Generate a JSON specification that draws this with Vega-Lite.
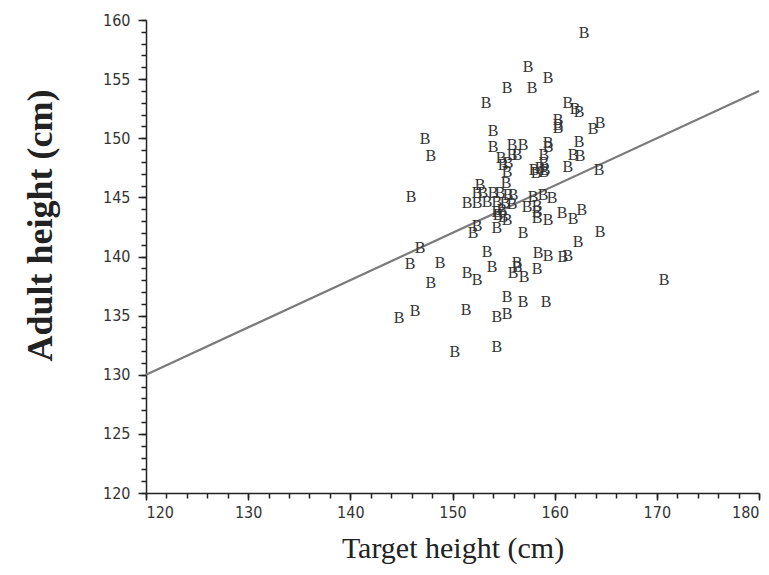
{
  "$schema": "https://vega.github.io/schema/vega-lite/v6.json",
  "width": 613,
  "height": 473,
  "autosize": {"type": "none"},
  "padding": {"left": 146, "top": 20, "right": 10, "bottom": 82},
  "background": "white",
  "config": {
    "view": {"stroke": null},
    "axis": {"grid": false, "domainColor": "#222", "tickColor": "#222", "domainWidth": 1.5, "tickWidth": 1.5, "labelFont": "Liberation Sans Narrow, DejaVu Sans Condensed, Arial Narrow, sans-serif", "labelFontSize": 16, "labelColor": "#333"}
  },
  "datasets": {
    "pts": [
      {"target": 162.87, "adult": 158.90}, {"target": 157.39, "adult": 156.03}, {"target": 159.35, "adult": 155.10},
      {"target": 155.33, "adult": 154.25}, {"target": 157.78, "adult": 154.25}, {"target": 153.28, "adult": 152.98},
      {"target": 161.30, "adult": 152.98}, {"target": 161.99, "adult": 152.47}, {"target": 162.38, "adult": 152.22},
      {"target": 160.33, "adult": 151.54}, {"target": 160.33, "adult": 151.12}, {"target": 160.33, "adult": 150.87},
      {"target": 164.44, "adult": 151.29}, {"target": 163.75, "adult": 150.78}, {"target": 153.96, "adult": 150.61},
      {"target": 147.31, "adult": 149.94}, {"target": 153.96, "adult": 149.26}, {"target": 155.82, "adult": 149.43},
      {"target": 156.90, "adult": 149.43}, {"target": 159.35, "adult": 149.60}, {"target": 159.35, "adult": 149.26},
      {"target": 162.38, "adult": 149.68}, {"target": 147.89, "adult": 148.50}, {"target": 154.75, "adult": 148.33},
      {"target": 155.82, "adult": 148.58}, {"target": 156.31, "adult": 148.58}, {"target": 158.95, "adult": 148.58},
      {"target": 161.79, "adult": 148.58}, {"target": 162.48, "adult": 148.50}, {"target": 154.94, "adult": 147.74},
      {"target": 155.43, "adult": 147.91}, {"target": 155.33, "adult": 147.15}, {"target": 158.95, "adult": 147.91},
      {"target": 158.95, "adult": 147.15}, {"target": 157.98, "adult": 147.32}, {"target": 158.56, "adult": 147.48},
      {"target": 159.05, "adult": 147.32}, {"target": 158.17, "adult": 147.06}, {"target": 161.30, "adult": 147.57},
      {"target": 164.34, "adult": 147.32}, {"target": 155.24, "adult": 146.22}, {"target": 152.69, "adult": 146.05},
      {"target": 152.40, "adult": 145.37}, {"target": 152.98, "adult": 145.37}, {"target": 153.96, "adult": 145.37},
      {"target": 154.65, "adult": 145.37}, {"target": 155.43, "adult": 145.20}, {"target": 155.92, "adult": 145.20},
      {"target": 145.94, "adult": 145.03}, {"target": 157.88, "adult": 145.03}, {"target": 158.86, "adult": 145.20},
      {"target": 159.74, "adult": 144.95}, {"target": 151.42, "adult": 144.52}, {"target": 152.40, "adult": 144.52},
      {"target": 153.38, "adult": 144.61}, {"target": 154.35, "adult": 144.61}, {"target": 155.14, "adult": 144.52},
      {"target": 155.82, "adult": 144.44}, {"target": 157.29, "adult": 144.21}, {"target": 158.27, "adult": 144.30},
      {"target": 154.35, "adult": 143.76}, {"target": 154.45, "adult": 143.51}, {"target": 154.84, "adult": 143.92},
      {"target": 158.27, "adult": 143.76}, {"target": 160.72, "adult": 143.68}, {"target": 162.67, "adult": 143.92},
      {"target": 161.79, "adult": 143.17}, {"target": 155.33, "adult": 143.09}, {"target": 154.94, "adult": 143.34},
      {"target": 158.27, "adult": 143.26}, {"target": 159.35, "adult": 143.09}, {"target": 152.40, "adult": 142.58},
      {"target": 152.01, "adult": 141.99}, {"target": 154.35, "adult": 142.41}, {"target": 156.90, "adult": 141.99},
      {"target": 164.44, "adult": 142.07}, {"target": 162.28, "adult": 141.23}, {"target": 146.82, "adult": 140.72},
      {"target": 153.38, "adult": 140.38}, {"target": 158.37, "adult": 140.30}, {"target": 159.35, "adult": 140.04},
      {"target": 160.81, "adult": 139.96}, {"target": 161.30, "adult": 140.04}, {"target": 145.84, "adult": 139.37},
      {"target": 148.78, "adult": 139.45}, {"target": 151.42, "adult": 138.60}, {"target": 152.40, "adult": 138.01},
      {"target": 153.87, "adult": 139.11}, {"target": 156.31, "adult": 139.45}, {"target": 156.31, "adult": 139.11},
      {"target": 155.92, "adult": 138.60}, {"target": 157.00, "adult": 138.27}, {"target": 158.27, "adult": 138.94},
      {"target": 147.89, "adult": 137.76}, {"target": 155.33, "adult": 136.58}, {"target": 156.90, "adult": 136.15},
      {"target": 159.15, "adult": 136.15}, {"target": 146.33, "adult": 135.39}, {"target": 144.76, "adult": 134.80},
      {"target": 151.32, "adult": 135.48}, {"target": 154.35, "adult": 134.88}, {"target": 155.33, "adult": 135.14},
      {"target": 154.35, "adult": 132.35}, {"target": 150.24, "adult": 131.92}, {"target": 170.70, "adult": 138.01}
    ],
    "fit": [{"t": 120, "a": 130}, {"t": 180, "a": 154}]
  },
  "layer": [
    {
      "data": {"name": "fit"},
      "mark": {"type": "line", "color": "#7a7a7a", "strokeWidth": 2.2},
      "encoding": {
        "x": {"field": "t", "type": "quantitative", "scale": {"domain": [120, 180], "nice": false, "zero": false},
          "axis": {"orient": "bottom", "values": [120,122,124,126,128,130,132,134,136,138,140,142,144,146,148,150,152,154,156,158,160,162,164,166,168,170,172,174,176,178,180], "labels": false, "domain": false, "tickSize": 5, "title": null}},
        "y": {"field": "a", "type": "quantitative", "scale": {"domain": [120, 160], "nice": false, "zero": false},
          "axis": {"orient": "left", "values": [120,121,122,123,124,125,126,127,128,129,130,131,132,133,134,135,136,137,138,139,140,141,142,143,144,145,146,147,148,149,150,151,152,153,154,155,156,157,158,159,160], "labels": false, "domain": false, "tickSize": 5, "title": null}}
      }
    },
    {
      "data": {"name": "pts"},
      "mark": {"type": "text", "text": "B", "font": "Liberation Serif", "fontSize": 16, "color": "#333", "align": "center", "baseline": "middle"},
      "encoding": {
        "x": {"field": "target", "type": "quantitative", "scale": {"domain": [120, 180], "nice": false, "zero": false},
          "axis": {"orient": "bottom", "values": [120, 130, 140, 150, 160, 170, 180], "tickSize": 7, "labelPadding": 4,
            "title": "Target height (cm)", "titleFont": "Liberation Serif", "titleFontSize": 30, "titleFontWeight": "normal", "titleColor": "#222", "titleY": 64, "titleBaseline": "alphabetic"}},
        "y": {"field": "adult", "type": "quantitative", "scale": {"domain": [120, 160], "nice": false, "zero": false},
          "axis": {"orient": "left", "values": [120, 125, 130, 135, 140, 145, 150, 155, 160], "tickSize": 8, "labelPadding": 8,
            "title": "Adult height (cm)", "titleFont": "Liberation Serif", "titleFontSize": 36, "titleFontWeight": "bold", "titleColor": "#222", "titleX": -95, "titleY": 205, "titleBaseline": "alphabetic"}}
      }
    }
  ],
  "resolve": {"axis": {"x": "independent", "y": "independent"}}
}
